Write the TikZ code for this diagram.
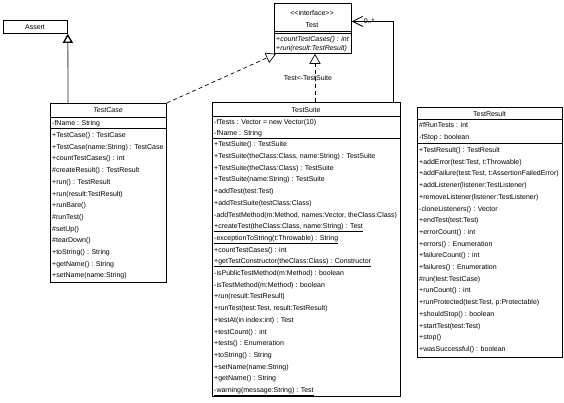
\documentclass[tikz,border=0pt]{standalone}
\usepackage{fontspec}
\setmainfont{Liberation Sans}
\usetikzlibrary{arrows.meta}
\begin{document}
\begin{tikzpicture}[x=1bp,y=-1bp,
  box/.style={draw=black, line width=0.8bp, inner sep=0, anchor=north west, fill=white},
  txt/.style={anchor=base west, inner sep=0, font=\fontsize{7bp}{8bp}\selectfont},
  hdr/.style={anchor=base, inner sep=0, font=\fontsize{7bp}{8bp}\selectfont},
  sepline/.style={line width=0.8bp},
  realize/.style={dash pattern=on 4bp off 3bp, line width=0.7bp, -{Triangle[open,length=10bp,width=11bp,fill=white]}},
  general/.style={line width=1.3bp, draw=black!45, -{Triangle[open,length=9bp,width=10bp,fill=white,color=black]}},
  assoc/.style={line width=0.8bp, -{Straight Barb[length=10bp,width=10bp]}}
]
\useasboundingbox (0,0) rectangle (564,402);

% ---------- Assert ----------
\node[box, minimum width=64bp, minimum height=13bp] (assert) at (3,20) {};
\node[hdr] (assertT) at (35,29.5) {Assert};

% ---------- Test (interface) ----------
\node[box, minimum width=77bp, minimum height=50bp] (test) at (274,3) {};
\node[hdr] (testS) at (312,15.5) {<\kern0pt<interface>\kern0pt>};
\node[hdr] (testN) at (312,27) {Test};
\draw[sepline] (test.west |- 0,31) -- (test.east |- 0,31);
\draw[sepline] (test.west |- 0,33) -- (test.east |- 0,33);
\node[txt] (testm1) at (276,41.5) {+\textit{countTestCases() : int}};
\node[txt] (testm2) at (276,50.5) {+\textit{run(result:TestResult)}};

% ---------- TestCase ----------
\node[box, minimum width=116bp, minimum height=179bp] (tc) at (50,103) {};
\node[hdr] (tcN) at (108,112.5) {\textit{TestCase}};
\draw[sepline] (tc.west |- 0,117) -- (tc.east |- 0,117);
\node[txt] (tca1) at (52,125) {-fName : String};
\draw[sepline] (tc.west |- 0,128.5) -- (tc.east |- 0,128.5);
\foreach \t [count=\i from 0] in {
  {+TestCase() : TestCase},
  {+TestCase(name:String) : TestCase},
  {+countTestCases() : int},
  {\#createResult() : TestResult},
  {+run() : TestResult},
  {+run(result:TestResult)},
  {+runBare()},
  {\#runTest()},
  {\#setUp()},
  {\#tearDown()},
  {+toString() : String},
  {+getName() : String},
  {+setName(name:String)}}
  \node[txt] (tcm\i) at ({52},{137.5+\i*11.7}) {\t};

% ---------- TestSuite ----------
\node[box, minimum width=188bp, minimum height=294bp] (ts) at (212,102) {};
\node[hdr] (tsN) at (306,112.5) {TestSuite};
\draw[sepline] (ts.west |- 0,116) -- (ts.east |- 0,116);
\node[txt] (tsa1) at (214,124.5) {-fTests : Vector = new Vector(10)};
\node[txt] (tsa2) at (214,135.5) {-fName : String};
\draw[sepline] (ts.west |- 0,138.5) -- (ts.east |- 0,138.5);
\foreach \t [count=\i from 0] in {
  {+TestSuite() : TestSuite},
  {+TestSuite(theClass:Class, name:String) : TestSuite},
  {+TestSuite(theClass:Class) : TestSuite},
  {+TestSuite(name:String) : TestSuite},
  {+addTest(test:Test)},
  {+addTestSuite(testClass:Class)},
  {-addTestMethod(m:Method, names:Vector, theClass:Class)},
  {\underline{+createTest(theClass:Class, name:String) : Test}},
  {\underline{-exceptionToString(t:Throwable) : String}},
  {+countTestCases() : int},
  {\underline{+getTestConstructor(theClass:Class) : Constructor}},
  {-isPublicTestMethod(m:Method) : boolean},
  {-isTestMethod(m:Method) : boolean},
  {+run(result:TestResult)},
  {+runTest(test:Test, result:TestResult)},
  {+testAt(in index:int) : Test},
  {+testCount() : int},
  {+tests() : Enumeration},
  {+toString() : String},
  {+setName(name:String)},
  {+getName() : String},
  {\underline{-warning(message:String) : Test}}}
  \node[txt] (tsm\i) at ({214},{146.8+\i*11.7}) {\t};

% ---------- TestResult ----------
\node[box, minimum width=145bp, minimum height=250bp] (tr) at (417,107) {};
\node[hdr] (trN) at (489.5,116) {TestResult};
\draw[sepline] (tr.west |- 0,119.5) -- (tr.east |- 0,119.5);
\node[txt] (tra1) at (419,127.5) {\#fRunTests : int};
\node[txt] (tra2) at (419,139.5) {-fStop : boolean};
\draw[sepline] (tr.west |- 0,143) -- (tr.east |- 0,143);
\foreach \t [count=\i from 0] in {
  {+TestResult() : TestResult},
  {+addError(test:Test, t:Throwable)},
  {+addFailure(test:Test, t:AssertionFailedError)},
  {+addListener(listener:TestListener)},
  {+removeListener(listener:TestListener)},
  {-cloneListeners() : Vector},
  {+endTest(test:Test)},
  {+errorCount() : int},
  {+errors() : Enumeration},
  {+failureCount() : int},
  {+failures() : Enumeration},
  {\#run(test:TestCase)},
  {+runCount() : int},
  {+runProtected(test:Test, p:Protectable)},
  {+shouldStop() : boolean},
  {+startTest(test:Test)},
  {+stop()},
  {+wasSuccessful() : boolean}}
  \node[txt] (trm\i) at ({419},{152.5+\i*11.7}) {\t};

% ---------- Connectors ----------
\draw[general] ([xshift=18bp]tc.north west) -- (assert.south east);
\draw[realize] (tc.north east) -- ([xshift=2bp]test.south west);
\coordinate (tsTop) at ([xshift=103bp]ts.north west);
\draw[realize] (tsTop) -- (tsTop |- test.south);
\node[hdr] (lblReal) at (308,80) {Test<-TestSuite};
\coordinate (tsAssoc) at ([xshift=-7bp]ts.north east);
\coordinate (testR) at ([yshift=7bp]test.east);
\draw[assoc] (tsAssoc) |- (testR);
\node[hdr] (mult) at (369,23) {0..*};
\end{tikzpicture}
\end{document}
